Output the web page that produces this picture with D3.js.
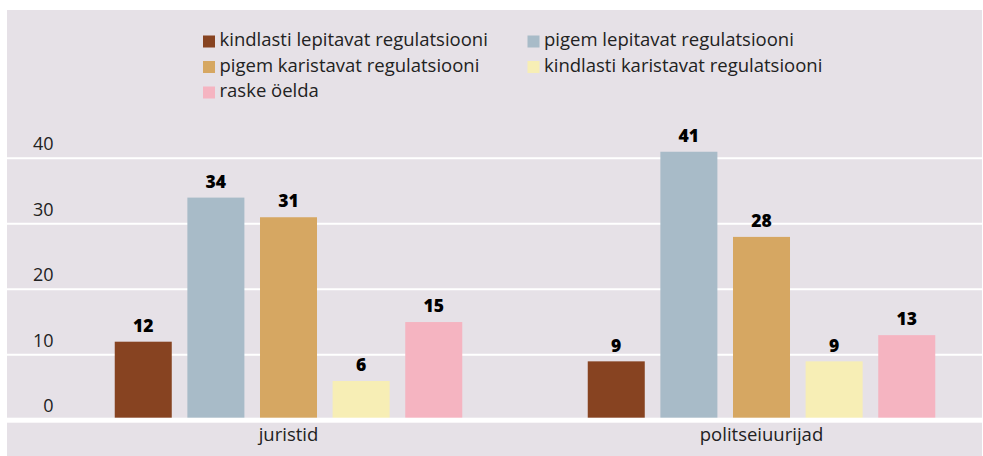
<!DOCTYPE html>
<html>
<head>
<meta charset="utf-8">
<script src="https://cdn.jsdelivr.net/npm/d3@7"></script>
<style>
  body { margin: 0; background: #fff; }
  text { font-family: "Open Sans", sans-serif; }
</style>
</head>
<body>
<svg id="chart"></svg>
<script>
var w = 983;
var h = 456;

var categories = ['juristid', 'politseiuurijad'];
var series = ['kindlasti lepitavat regulatsiooni', 'pigem lepitavat regulatsiooni',
  'pigem karistavat regulatsiooni', 'kindlasti karistavat regulatsiooni', 'raske öelda'];
var colors = ['#874321', '#a8bbc8', '#d6a762', '#f7eeb5', '#f5b4c1'];
var juristid = [12, 34, 31, 6, 15];
var politseiuurijad = [9, 41, 28, 9, 13];
var yTicks = [0, 10, 20, 30, 40];

var values = [juristid, politseiuurijad];

var svg = d3.select('#chart').attr('width', w).attr('height', h);

// panel
svg.append('rect')
  .attr('x', 7).attr('y', 10)
  .attr('width', 975).attr('height', h - 10)
  .attr('fill', '#e6e1e7');

var y = d3.scaleLinear().domain([0, 40]).range([420.3, 158.3]);

var x0 = d3.scaleBand().domain(categories).range([52, 998]);
var x1 = d3.scaleBand().domain(series).range([0, x0.bandwidth()])
  .paddingInner(0.215).paddingOuter(0.864);

// gridlines
svg.selectAll('line.grid')
  .data(yTicks.filter(function (d) { return d > 0; }))
  .enter()
  .append('line')
  .attr('class', 'grid')
  .attr('x1', 7).attr('x2', 982)
  .attr('y1', function (d) { return y(d); })
  .attr('y2', function (d) { return y(d); })
  .attr('stroke', '#fff')
  .attr('stroke-width', 2);

// y tick labels
svg.selectAll('text.ytick')
  .data(yTicks)
  .enter()
  .append('text')
  .attr('class', 'ytick')
  .attr('x', 53.5)
  .attr('y', function (d) { return y(d) - 8.3; })
  .attr('text-anchor', 'end')
  .attr('font-size', '18px')
  .attr('fill', '#222')
  .text(function (d) { return d; });

// bars
var groups = svg.selectAll('g.group')
  .data(categories)
  .enter()
  .append('g')
  .attr('class', 'group')
  .attr('transform', function (d) { return 'translate(' + x0(d) + ',0)'; });

groups.selectAll('rect')
  .data(function (d, i) {
    return values[i].map(function (v, j) { return { s: series[j], v: v, c: colors[j] }; });
  })
  .enter()
  .append('rect')
  .attr('x', function (d) { return x1(d.s); })
  .attr('y', function (d) { return y(d.v); })
  .attr('width', x1.bandwidth())
  .attr('height', function (d) { return y(0) - y(d.v); })
  .attr('fill', function (d) { return d.c; });

groups.selectAll('text.val')
  .data(function (d, i) { return values[i].map(function (v, j) { return { s: series[j], v: v }; }); })
  .enter()
  .append('text')
  .attr('class', 'val')
  .attr('x', function (d) { return x1(d.s) + x1.bandwidth() / 2; })
  .attr('y', function (d) { return y(d.v) - 9.8; })
  .attr('text-anchor', 'middle')
  .attr('font-size', '17.5px')
  .attr('font-weight', 800)
  .attr('fill', '#000')
  .text(function (d) { return d.v; });

// baseline
svg.append('rect')
  .attr('x', 7).attr('y', y(0) - 2.6)
  .attr('width', 975).attr('height', 5)
  .attr('fill', '#fff');

// category labels
svg.selectAll('text.cat')
  .data(categories)
  .enter()
  .append('text')
  .attr('class', 'cat')
  .attr('x', function (d) { return x0(d) + x0.bandwidth() / 2; })
  .attr('y', 441)
  .attr('text-anchor', 'middle')
  .attr('font-size', '18.5px')
  .attr('fill', '#222')
  .text(function (d) { return d; });

// legend
var legend = svg.selectAll('g.legend')
  .data(series)
  .enter()
  .append('g')
  .attr('class', 'legend')
  .attr('transform', function (d, i) {
    return 'translate(' + (i % 2 === 0 ? 203 : 527.5) + ',' + (35.5 + Math.floor(i / 2) * 25.5) + ')';
  });

legend.append('rect')
  .attr('width', 12).attr('height', 12)
  .attr('fill', function (d, i) { return colors[i]; });

legend.append('text')
  .attr('x', 16.5)
  .attr('y', 10.5)
  .attr('font-size', '18.5px')
  .attr('fill', '#222')
  .text(function (d) { return d; });
</script>
</body>
</html>
